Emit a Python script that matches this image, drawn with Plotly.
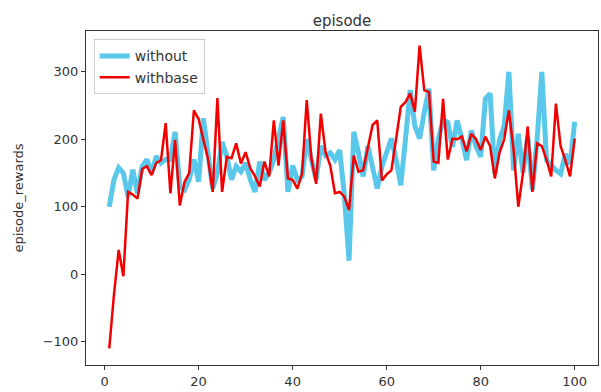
import plotly.graph_objects as go

episodes = list(range(1, 101))

without = [100, 140, 158, 150, 115, 155, 120, 160, 170, 150,
           175, 165, 170, 170, 211, 130, 125, 140, 170, 137,
           231, 180, 127, 150, 196, 175, 140, 160, 152, 165,
           140, 122, 167, 140, 150, 170, 200, 233, 122, 161,
           140, 145, 200, 170, 140, 190, 176, 180, 170, 184,
           117, 20, 211, 180, 145, 190, 160, 127, 160, 180,
           201, 170, 132, 200, 273, 220, 201, 240, 275, 154,
           200, 229, 225, 189, 228, 200, 169, 213, 190, 174,
           260, 268, 149, 199, 220, 300, 154, 208, 150, 204,
           125, 200, 300, 169, 160, 154, 149, 178, 163, 226]

withbase = [-110, -30, 36, -3, 122, 118, 112, 156, 160, 147,
            165, 169, 224, 120, 199, 102, 137, 150, 243, 230,
            200, 171, 122, 261, 122, 174, 172, 194, 164, 181,
            157, 145, 130, 167, 145, 228, 161, 228, 142, 140,
            127, 149, 258, 171, 134, 238, 181, 161, 120, 122,
            115, 95, 176, 152, 154, 190, 221, 228, 139, 148,
            154, 200, 248, 255, 268, 241, 339, 273, 270, 167,
            165, 260, 170, 201, 200, 204, 182, 208, 200, 184,
            204, 190, 142, 180, 200, 243, 184, 100, 150, 219,
            122, 194, 190, 170, 145, 253, 190, 169, 145, 201]

y_ticks = [-100, 0, 100, 200, 300]
x_ticks = [0, 20, 40, 60, 80, 100]

fig = go.Figure()
fig.add_trace(go.Scatter(x=episodes, y=without, mode="lines", name="without",
                         line=dict(color="#5ac8ea", width=5)))
fig.add_trace(go.Scatter(x=episodes, y=withbase, mode="lines", name="withbase",
                         line=dict(color="#f20000", width=2.5)))

axis_common = dict(showgrid=False, zeroline=False, showline=True, linecolor="#333333",
                   linewidth=1, mirror=True, ticks="outside", ticklen=4,
                   tickcolor="#333333", tickfont=dict(size=13, color="#333333"))

fig.update_layout(
    width=601, height=392,
    margin=dict(l=86, r=3, t=31, b=27),
    paper_bgcolor="white", plot_bgcolor="white",
    font=dict(family="DejaVu Sans", color="#333333"),
    title=dict(text="episode", x=0.5, xref="paper", xanchor="center",
               y=0.96, yref="container", font=dict(size=15, color="#333333")),
    xaxis=dict(range=[-3.95, 104.95], tickvals=x_ticks, **axis_common),
    yaxis=dict(range=[-134.5, 360.5], tickvals=y_ticks,
               title=dict(text="episode_rewards", font=dict(size=13, color="#333333"), standoff=16),
               **axis_common),
    legend=dict(x=0.015, y=0.975, xanchor="left", yanchor="top",
                bgcolor="rgba(255,255,255,0.9)", bordercolor="#cccccc", borderwidth=1,
                font=dict(size=14, color="#333333")),
    showlegend=True,
)

fig.write_html("out.html")
